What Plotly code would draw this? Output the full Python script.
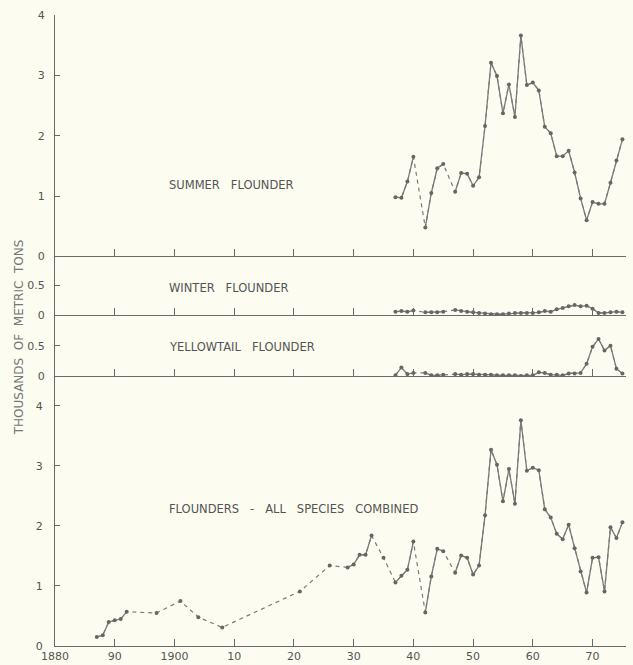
import plotly.graph_objects as go

# ---------------- data (thousands of metric tons) ----------------
summer_years = [1937, 1938, 1939, 1940, 1942, 1943, 1944, 1945, 1947, 1948, 1949, 1950,
                1951, 1952, 1953, 1954, 1955, 1956, 1957, 1958, 1959, 1960, 1961, 1962,
                1963, 1964, 1965, 1966, 1967, 1968, 1969, 1970, 1971, 1972, 1973, 1974, 1975]
summer_tons = [0.98, 0.97, 1.24, 1.65, 0.48, 1.05, 1.46, 1.53, 1.07, 1.38, 1.37, 1.17,
               1.31, 2.16, 3.21, 2.99, 2.37, 2.85, 2.31, 3.66, 2.84, 2.88, 2.75, 2.15,
               2.04, 1.66, 1.66, 1.75, 1.39, 0.96, 0.60, 0.90, 0.87, 0.87, 1.22, 1.59, 1.94]

winter_years = [1937, 1938, 1939, 1940, 1942, 1943, 1944, 1945, 1947, 1948, 1949, 1950,
                1951, 1952, 1953, 1954, 1955, 1956, 1957, 1958, 1959, 1960, 1961, 1962,
                1963, 1964, 1965, 1966, 1967, 1968, 1969, 1970, 1971, 1972, 1973, 1974, 1975]
winter_tons = [0.06, 0.07, 0.06, 0.08, 0.05, 0.05, 0.05, 0.06, 0.09, 0.07, 0.06, 0.05,
               0.04, 0.03, 0.02, 0.02, 0.02, 0.03, 0.04, 0.04, 0.04, 0.04, 0.05, 0.07,
               0.06, 0.10, 0.12, 0.15, 0.17, 0.15, 0.16, 0.11, 0.04, 0.04, 0.05, 0.06, 0.05]

yellow_years = [1937, 1938, 1939, 1940, 1942, 1943, 1944, 1945, 1947, 1948, 1949, 1950,
                1951, 1952, 1953, 1954, 1955, 1956, 1957, 1958, 1959, 1960, 1961, 1962,
                1963, 1964, 1965, 1966, 1967, 1968, 1969, 1970, 1971, 1972, 1973, 1974, 1975]
yellow_tons = [0.01, 0.14, 0.03, 0.05, 0.05, 0.01, 0.01, 0.02, 0.03, 0.02, 0.03, 0.03,
               0.02, 0.02, 0.02, 0.01, 0.01, 0.01, 0.01, 0.00, 0.01, 0.01, 0.06, 0.05,
               0.02, 0.02, 0.01, 0.04, 0.04, 0.05, 0.20, 0.48, 0.61, 0.42, 0.50, 0.12, 0.04]

all_years = [1887, 1888, 1889, 1890, 1891, 1892, 1897, 1901, 1904, 1908, 1921, 1926,
             1929, 1930, 1931, 1932, 1933, 1935, 1937, 1938, 1939, 1940, 1942, 1943,
             1944, 1945, 1947, 1948, 1949, 1950, 1951, 1952, 1953, 1954, 1955, 1956,
             1957, 1958, 1959, 1960, 1961, 1962, 1963, 1964, 1965, 1966, 1967, 1968,
             1969, 1970, 1971, 1972, 1973, 1974, 1975]
all_tons = [0.15, 0.18, 0.40, 0.43, 0.45, 0.57, 0.55, 0.75, 0.48, 0.31, 0.91, 1.34,
            1.31, 1.36, 1.52, 1.52, 1.84, 1.47, 1.06, 1.17, 1.27, 1.74, 0.56, 1.16,
            1.62, 1.58, 1.22, 1.51, 1.47, 1.19, 1.34, 2.18, 3.27, 3.02, 2.41, 2.95,
            2.37, 3.76, 2.92, 2.97, 2.93, 2.28, 2.14, 1.87, 1.78, 2.02, 1.63, 1.24,
            0.89, 1.47, 1.48, 0.91, 1.98, 1.80, 2.06]

x_tickvals = [1880, 1890, 1900, 1910, 1920, 1930, 1940, 1950, 1960, 1970]
x_ticktext = ["1880", "90", "1900", "10", "20", "30", "40", "50", "60", "70"]

SP = "\u00a0\u00a0\u00a0"
panel_labels = ["SUMMER" + SP + "FLOUNDER", "WINTER" + SP + "FLOUNDER",
                "YELLOWTAIL" + SP + "FLOUNDER",
                "FLOUNDERS" + SP + "-" + SP + "ALL" + SP + "SPECIES" + SP + "COMBINED"]
SP2 = "\u00a0\u00a0"
y_title = "THOUSANDS" + SP2 + "OF" + SP2 + "METRIC" + SP2 + "TONS"

# ---------------- style ----------------
BG = "#fcfcf0"
LINE = "#7a7a7a"
MARK = "#666666"
AX = "#6a6a6a"
TXT = "#555555"
FONT = "DejaVu Sans"


def full_series(years, vals):
    """Consecutive-year series with None for missing years (solid segments)."""
    d = dict(zip(years, vals))
    ys = list(range(years[0], years[-1] + 1))
    return ys, [d.get(y) for y in ys]


fig = go.Figure()

series = [
    (summer_years, summer_tons, "x", "y"),
    (winter_years, winter_tons, "x2", "y2"),
    (yellow_years, yellow_tons, "x3", "y3"),
    (all_years, all_tons, "x4", "y4"),
]

for yrs, vals, xa, ya in series:
    # dashed line bridging missing years
    fig.add_trace(go.Scatter(x=yrs, y=vals, mode="lines", xaxis=xa, yaxis=ya,
                             line=dict(color=LINE, width=1.2, dash="4px,4px"),
                             hoverinfo="skip", showlegend=False))
    fy, fv = full_series(yrs, vals)
    fig.add_trace(go.Scatter(x=fy, y=fv, mode="lines", xaxis=xa, yaxis=ya,
                             connectgaps=False,
                             line=dict(color=LINE, width=1.3),
                             showlegend=False))
    fig.add_trace(go.Scatter(x=yrs, y=vals, mode="markers", xaxis=xa, yaxis=ya,
                             marker=dict(color=MARK, size=4),
                             showlegend=False))

# domains (bottom -> top)
d_all = [0.0, 0.428]
d_yel = [0.428, 0.524]
d_win = [0.524, 0.6175]
d_sum = [0.6175, 1.0]

xcommon = dict(range=[1880, 1975.6], tickvals=x_tickvals, ticktext=x_ticktext,
               ticks="inside", ticklen=7, tickwidth=1, tickcolor=AX,
               showline=True, linecolor=AX, linewidth=1,
               showgrid=False, zeroline=False, automargin=False,
               tickfont=dict(family=FONT, size=11, color=TXT))
ycommon = dict(ticks="inside", ticklen=5, tickwidth=1, tickcolor=AX,
               showline=True, linecolor=AX, linewidth=1,
               showgrid=False, zeroline=False, ticklabelstandoff=7, automargin=False,
               tickfont=dict(family=FONT, size=11, color=TXT))

fig.update_layout(
    width=633, height=665,
    margin=dict(l=55, r=7, t=15, b=19),
    paper_bgcolor=BG, plot_bgcolor=BG,
    showlegend=False,
    xaxis=dict(xcommon, anchor="y", domain=[0, 1], showticklabels=False),
    xaxis2=dict(xcommon, anchor="y2", domain=[0, 1], showticklabels=False, matches="x"),
    xaxis3=dict(xcommon, anchor="y3", domain=[0, 1], showticklabels=False, matches="x"),
    xaxis4=dict(xcommon, anchor="y4", domain=[0, 1], showticklabels=True, matches="x",
                ticklabelstandoff=0),
    yaxis=dict(ycommon, anchor="x", domain=d_sum, range=[0, 4],
               tickvals=[0, 1, 2, 3, 4], ticktext=["0", "1", "2", "3", "4"]),
    yaxis2=dict(ycommon, anchor="x2", domain=d_win, range=[0, 0.975],
                tickvals=[0, 0.5], ticktext=["0", "0.5"]),
    yaxis3=dict(ycommon, anchor="x3", domain=d_yel, range=[0, 1.0],
                tickvals=[0, 0.5], ticktext=["0", "0.5"]),
    yaxis4=dict(ycommon, anchor="x4", domain=d_all, range=[0, 4.5], ticklabelstandoff=9,
                tickvals=[0, 1, 2, 3, 4], ticktext=["0", "1", "2", "3", "4"]),
)

label_pos = [("x", "y", 1.19), ("x2", "y2", 0.45), ("x3", "y3", 0.48), ("x4", "y4", 2.28)]
for text, (xa, ya, yv) in zip(panel_labels, label_pos):
    fig.add_annotation(text=text, x=1898.8, y=yv, xref=xa, yref=ya,
                       xanchor="left", yanchor="middle", showarrow=False,
                       font=dict(family=FONT, size=11.5, color=TXT))

fig.add_annotation(text=y_title, xref="paper", yref="paper",
                   x=-0.064, y=0.49, xanchor="center", yanchor="middle",
                   textangle=-90, showarrow=False,
                   font=dict(family=FONT, size=12, color="#777777"))

fig.write_html("out.html")
